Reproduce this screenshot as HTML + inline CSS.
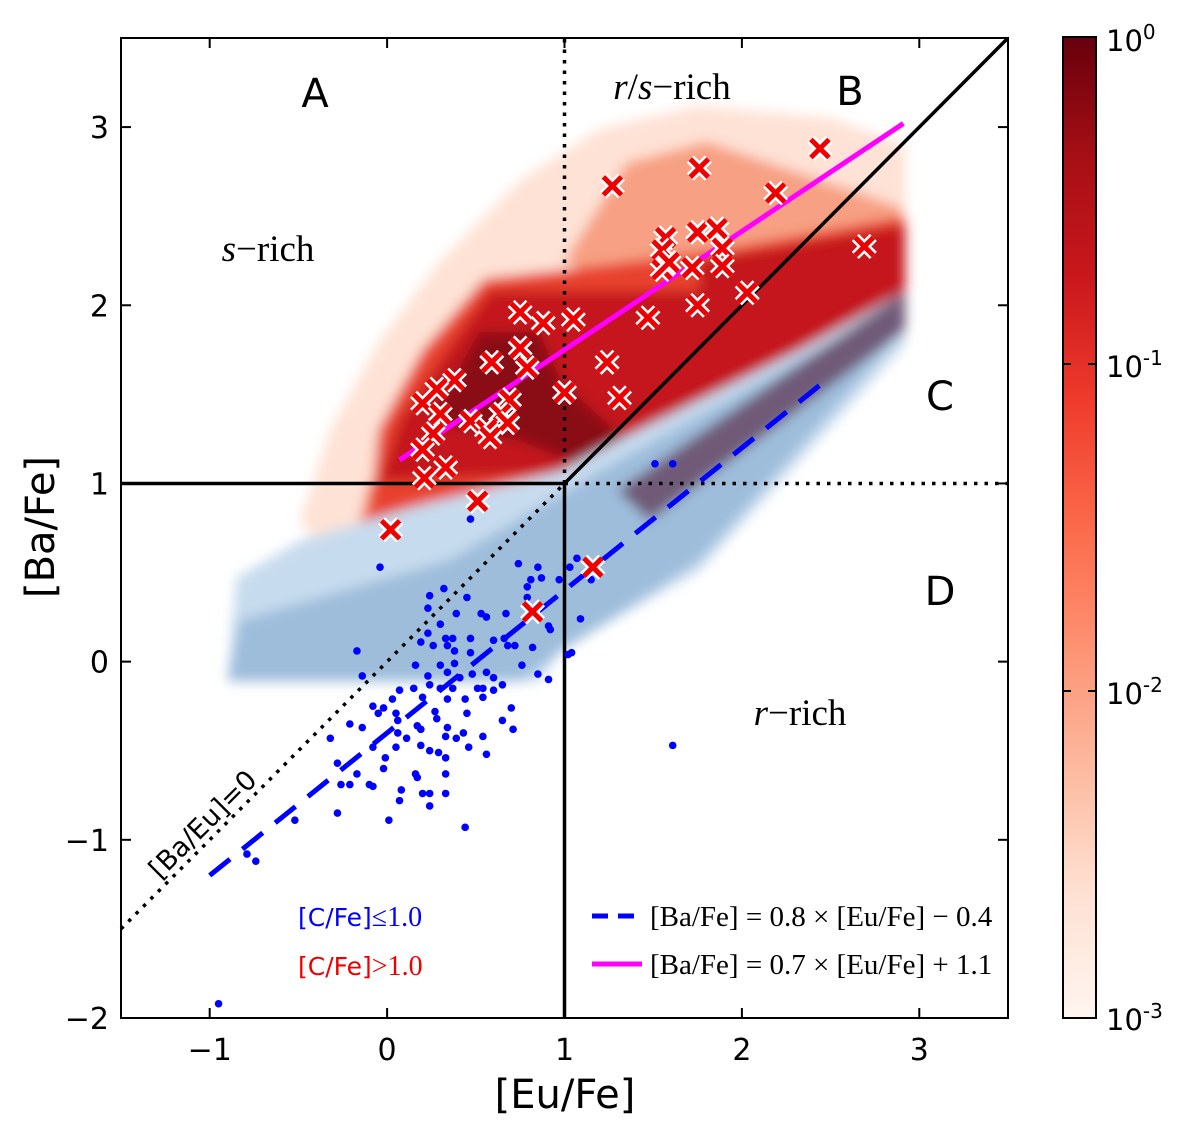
<!DOCTYPE html>
<html><head><meta charset="utf-8">
<style>
html,body{margin:0;padding:0;background:#fff;}
</style></head>
<body>
<svg id="chart" width="1200" height="1129" viewBox="0 0 1200 1129" xmlns="http://www.w3.org/2000/svg" style="position:absolute;left:0;top:0;font-family:'DejaVu Sans','Liberation Sans',sans-serif">
<defs>
<filter id="blur" x="-5%" y="-5%" width="110%" height="110%"><feGaussianBlur stdDeviation="6"/></filter>
<linearGradient id="cbar" x1="0" y1="0" x2="0" y2="1">
<stop offset="0" stop-color="#67000d"/><stop offset="0.12" stop-color="#a50f15"/><stop offset="0.25" stop-color="#cb181d"/><stop offset="0.37" stop-color="#ef3b2c"/><stop offset="0.5" stop-color="#fb6a4a"/><stop offset="0.62" stop-color="#fc9272"/><stop offset="0.75" stop-color="#fcbba1"/><stop offset="0.87" stop-color="#fee0d2"/><stop offset="1" stop-color="#fff5f0"/>
</linearGradient>
<clipPath id="plotclip"><rect x="121" y="38" width="887" height="980"/></clipPath>
</defs>
<g id="density" clip-path="url(#plotclip)" filter="url(#blur)"></g>
<g id="lines"></g>
<g id="marks"></g>
<g id="axes"></g>

<text x="565" y="1108" font-size="40" text-anchor="middle">[Eu/Fe]</text>
<text transform="translate(54,527) rotate(-90)" font-size="40" text-anchor="middle">[Ba/Fe]</text>
<text x="315" y="107" font-size="40" text-anchor="middle">A</text>
<text x="850" y="105" font-size="40" text-anchor="middle">B</text>
<text x="940" y="410" font-size="40" text-anchor="middle">C</text>
<text x="940" y="605" font-size="40" text-anchor="middle">D</text>
<text x="672" y="99" font-size="37" text-anchor="middle" style="font-family:'Liberation Serif',serif"><tspan font-style="italic">r</tspan>/<tspan font-style="italic">s</tspan>−rich</text>
<text x="268" y="261" font-size="37" text-anchor="middle" style="font-family:'Liberation Serif',serif"><tspan font-style="italic">s</tspan>−rich</text>
<text x="800" y="725" font-size="37" text-anchor="middle" style="font-family:'Liberation Serif',serif"><tspan font-style="italic">r</tspan>−rich</text>
<text transform="translate(160,880) rotate(-45)" font-size="27">[Ba/Eu]=0</text>
<text x="298" y="926" font-size="25" fill="#0000ff">[C/Fe]<tspan style="font-family:'Liberation Serif',serif" font-size="28">≤1.0</tspan></text>
<text x="298" y="975" font-size="25" fill="#ee0000">[C/Fe]<tspan style="font-family:'Liberation Serif',serif" font-size="28">&gt;1.0</tspan></text>
<line x1="592" y1="916" x2="642" y2="916" stroke="#0000ff" stroke-width="5" stroke-dasharray="16 10"/>
<text x="650" y="926" font-size="29" style="font-family:'Liberation Serif',serif">[Ba/Fe] = 0.8 × [Eu/Fe] − 0.4</text>
<line x1="592" y1="964" x2="642" y2="964" stroke="#ff00ff" stroke-width="5"/>
<text x="650" y="974" font-size="29" style="font-family:'Liberation Serif',serif">[Ba/Fe] = 0.7 × [Eu/Fe] + 1.1</text>
<g>
<rect x="1063" y="37" width="33" height="981" fill="url(#cbar)" stroke="#000" stroke-width="2"/>
<line x1="1063" y1="364" x2="1071" y2="364" stroke="#000" stroke-width="2"/><line x1="1096" y1="364" x2="1088" y2="364" stroke="#000" stroke-width="2"/>
<line x1="1063" y1="691" x2="1071" y2="691" stroke="#000" stroke-width="2"/><line x1="1096" y1="691" x2="1088" y2="691" stroke="#000" stroke-width="2"/>
<text x="1106" y="51" font-size="29">10<tspan font-size="20" dy="-12">0</tspan></text>
<text x="1106" y="377" font-size="29">10<tspan font-size="20" dy="-12">-1</tspan></text>
<text x="1106" y="704" font-size="29">10<tspan font-size="20" dy="-12">-2</tspan></text>
<text x="1106" y="1030" font-size="29">10<tspan font-size="20" dy="-12">-3</tspan></text>
</g>
</svg>
<script>
const xTicks=[-1,0,1,2,3];
const yTicks=[-2,-1,0,1,2,3];
const xDomain=[-1.5,3.5];
const yDomain=[-2,3.5];
const magentaFit=[0.665,1.085,0.07,2.91]; // slope, intercept, xStart, xEnd
const blueFit=[0.8,-0.4,-1,2.5];
const redEu=[1.27,1.76,2.44,2.19,1.57,1.75,1.86,1.55,1.89,1.55,1.59,1.72,1.89,2.03,2.69,1.75,1.47,1.24,1.31,1.00,1.05,0.88,0.75,0.75,0.79,0.59,0.38,0.28,0.20,0.30,0.47,0.69,0.64,0.56,0.68,0.58,0.26,0.20,0.33,0.21,0.51,0.02,1.16,0.82];
const redBa=[2.67,2.77,2.88,2.63,2.38,2.41,2.43,2.31,2.32,2.20,2.24,2.21,2.22,2.07,2.33,2.00,1.93,1.68,1.48,1.51,1.92,1.90,1.96,1.76,1.65,1.68,1.58,1.53,1.45,1.39,1.35,1.47,1.39,1.30,1.34,1.26,1.28,1.19,1.09,1.03,0.90,0.74,0.53,0.28];
const blueEu=[-0.04,0.47,0.74,0.85,1.07,1.03,1.15,0.81,0.87,0.79,0.97,0.32,0.24,0.45,0.79,0.23,0.39,0.53,0.56,0.67,1.09,0.30,0.91,0.92,0.23,0.19,0.33,0.37,0.47,0.60,0.66,0.26,0.34,0.38,0.47,0.68,0.72,0.82,-0.17,1.04,0.16,0.30,0.38,0.76,0.23,0.34,0.41,0.48,0.56,0.60,0.85,0.91,-0.14,0.07,0.15,0.24,0.30,0.37,0.51,0.54,0.60,0.65,0.03,0.20,0.34,0.44,0.54,-0.08,-0.02,0.70,0.05,0.27,0.45,-0.05,0.28,0.06,0.65,-0.21,-0.14,0.17,0.34,0.71,0.06,0.19,0.11,0.33,0.39,0.43,0.54,-0.32,0.05,-0.08,0.19,0.24,0.46,0.29,0.33,0.56,-0.01,-0.28,-0.02,-0.17,0.16,0.33,0.17,-0.26,-0.21,-0.10,-0.08,0.08,0.20,0.24,0.33,0.07,0.24,-0.28,-0.52,0.01,0.44,-0.79,-0.74,1.61,-0.95,1.51,1.61,0.34,1.02];
const blueBa=[0.53,0.80,0.55,0.53,0.58,0.53,0.46,0.46,0.47,0.42,0.46,0.41,0.37,0.36,0.36,0.30,0.27,0.27,0.25,0.27,0.24,0.21,0.20,0.18,0.16,0.11,0.13,0.13,0.13,0.12,0.13,0.09,0.09,0.06,0.05,0.09,0.09,0.08,0.06,0.05,-0.02,-0.02,-0.01,-0.02,-0.08,-0.06,-0.09,-0.07,-0.06,-0.09,-0.07,-0.10,-0.08,-0.16,-0.15,-0.13,-0.15,-0.15,-0.15,-0.15,-0.16,-0.13,-0.21,-0.20,-0.21,-0.21,-0.20,-0.25,-0.26,-0.26,-0.29,-0.28,-0.29,-0.29,-0.32,-0.33,-0.33,-0.35,-0.37,-0.36,-0.37,-0.38,-0.40,-0.38,-0.43,-0.42,-0.43,-0.40,-0.42,-0.43,-0.48,-0.48,-0.47,-0.50,-0.48,-0.51,-0.54,-0.52,-0.54,-0.57,-0.60,-0.63,-0.63,-0.63,-0.65,-0.69,-0.69,-0.69,-0.70,-0.72,-0.74,-0.74,-0.74,-0.78,-0.81,-0.85,-0.89,-0.89,-0.93,-1.08,-1.12,-0.47,-1.92,1.11,1.11,1.07,0.04];
const blueLight=[[-0.9,-0.11],[0.86,-0.11],[0.98,0.06],[1.76,0.51],[2.92,1.78],[2.92,2.08],[2.33,1.75],[1.2,1.19],[0.98,1.07],[0.19,0.88],[-0.49,0.68],[-0.85,0.47]];
const blueMid=[[-0.9,-0.11],[0.75,-0.11],[0.98,0.06],[1.76,0.57],[2.92,1.87],[2.92,2.03],[1.2,1.07],[0.35,0.57],[-0.83,0.23]];
const purpleBand=[[1.3,0.96],[2.92,2.08],[2.92,1.86],[1.48,0.79]];
const redPale=[[-0.27,0.51],[0.92,0.57],[1.31,0.96],[2.92,2.08],[2.92,2.9],[2.5,3.05],[1.76,3.12],[1.2,2.99],[0.75,2.70],[0.3,2.25],[-0.04,1.8],[-0.32,1.3],[-0.49,0.79]];
const redSalmon=[[1.0,2.25],[1.35,2.8],[1.8,2.92],[2.3,2.75],[2.9,2.55],[2.9,2.4],[1.87,2.2],[1.2,2.15]];
const redLow=[[-0.2,0.62],[0.95,0.62],[1.2,1.0],[0.2,1.1],[-0.1,1.0]];
const redMed=[[-0.1,0.8],[0.9,0.75],[1.2,1.07],[2.92,2.08],[2.92,2.5],[1.8,2.3],[1.0,2.2],[0.55,2.15],[0.2,1.75],[-0.05,1.3]];
const redDark=[[-0.04,1.01],[1.2,1.07],[2.92,2.08],[2.92,2.45],[1.76,2.25],[1.76,2.08],[0.58,2.08],[0.3,1.69],[0.07,1.35]];
const redDarkest=[[0.24,1.35],[0.52,1.85],[0.86,1.85],[0.98,1.57],[1.4,1.2],[1.1,1.1],[0.75,1.24]];

const L=121,R=1008,T=38,B=1018;
const X=v=>L+(v-xDomain[0])/(xDomain[1]-xDomain[0])*(R-L);
const Y=v=>B-(v-yDomain[0])/(yDomain[1]-yDomain[0])*(B-T);
const NS="http://www.w3.org/2000/svg";
function mk(tag,attrs,parent){const e=document.createElementNS(NS,tag);for(const k in attrs)e.setAttribute(k,attrs[k]);parent.appendChild(e);return e;}
const dens=document.getElementById('density');
[[redPale,'#fee2d5'],[redSalmon,'#f7a083'],[redLow,'#f27d62'],[redMed,'#e8432f'],[redDark,'#c4161c'],[redDarkest,'#8a0c14'],[blueLight,'#c7dbee'],[blueMid,'#9dbddb'],[purpleBand,'#6f5a78']].forEach(([poly,col])=>{
  const p=mk('polygon',{points:poly.map(q=>X(q[0])+','+Y(q[1])).join(' '),fill:col},dens);
  
  
});
const ln=document.getElementById('lines');
function line(x1,y1,x2,y2,st,name){const e=mk('line',Object.assign({x1:X(x1),y1:Y(y1),x2:X(x2),y2:Y(y2)},st),ln);
  
  }
const solid={stroke:'#000','stroke-width':3.5};
const dot={stroke:'#000','stroke-width':3.5,'stroke-dasharray':'3.5 7'};
line(-1.5,1,1,1,solid,'boundary-horizontal');
line(1,1,3.5,1,dot,'boundary-horizontal-dotted');
line(1,-2,1,1,solid,'boundary-vertical');
line(1,1,1,3.5,dot,'boundary-vertical-dotted');
line(1,1,3.5,3.5,solid,'boundary-diagonal');
line(-1.5,-1.5,1,1,dot,'ba-eu-zero-line');
line(blueFit[2],blueFit[0]*blueFit[2]+blueFit[1],blueFit[3],blueFit[0]*blueFit[3]+blueFit[1],{stroke:'#0000ff','stroke-width':5,'stroke-dasharray':'26 16'},'fit-line-low-carbon');
line(magentaFit[2],magentaFit[0]*magentaFit[2]+magentaFit[1],magentaFit[3],magentaFit[0]*magentaFit[3]+magentaFit[1],{stroke:'#ff00ff','stroke-width':5},'fit-line-high-carbon');
const mg=document.getElementById('marks');
blueEu.forEach((e,i)=>{const c=mk('circle',{cx:X(e),cy:Y(blueBa[i]),r:3.8,fill:'#0000ff'},mg);
  
  });
redEu.forEach((e,i)=>{const x=X(e),y=Y(redBa[i]),s=9;
  const d=`M${x-s},${y-s}L${x+s},${y+s}M${x-s},${y+s}L${x+s},${y-s}`;
  const g=mk('g',{},mg);
  
  
  mk('path',{d:d,stroke:'#fff','stroke-width':10},g);
  mk('path',{d:d,stroke:'#ee0000','stroke-width':5},g);});
const ax=document.getElementById('axes');
mk('rect',{x:L,y:T,width:R-L,height:B-T,fill:'none',stroke:'#000','stroke-width':2},ax);
xTicks.forEach(t=>{const x=X(t);
  mk('line',{x1:x,y1:B,x2:x,y2:B-10,stroke:'#000','stroke-width':2},ax);
  mk('line',{x1:x,y1:T,x2:x,y2:T+10,stroke:'#000','stroke-width':2},ax);
  const tx=mk('text',{x:x,y:B+42,'font-size':30,'text-anchor':'middle'},ax);tx.textContent=(t<0?'\u2212'+(-t):t);
  
  });
yTicks.forEach(t=>{const y=Y(t);
  mk('line',{x1:L,y1:y,x2:L+10,y2:y,stroke:'#000','stroke-width':2},ax);
  mk('line',{x1:R,y1:y,x2:R-10,y2:y,stroke:'#000','stroke-width':2},ax);
  const tx=mk('text',{x:L-12,y:y+11,'font-size':30,'text-anchor':'end'},ax);tx.textContent=(t<0?'\u2212'+(-t):t);
  
  });
</script>
</body></html>
